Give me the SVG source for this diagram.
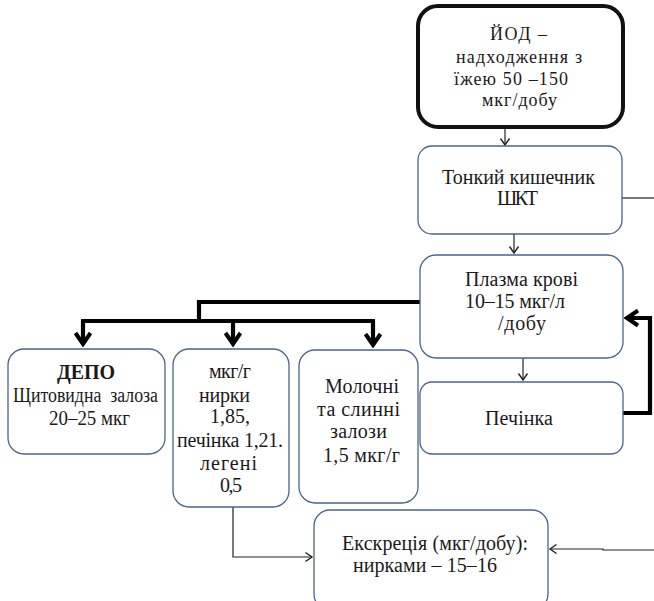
<svg xmlns="http://www.w3.org/2000/svg" width="654" height="601" viewBox="0 0 654 601">
  <defs>
    <style>
      .box { fill: #ffffff; stroke: #4a6489; stroke-width: 1.3; }
      .boxb { fill: #ffffff; stroke: #111111; stroke-width: 4; }
      .t { font-family: "Liberation Serif", "Times New Roman", serif; font-size: 20px; fill: #1a1a1a; }
      .s { font-size: 18px; }
      .b { font-weight: bold; }
      .thin { fill: none; stroke: #222222; stroke-width: 1.2; }
      .thick { fill: none; stroke: #000000; stroke-width: 4.2; }
    </style>
    <marker id="open" viewBox="-8 -6 10 12" refX="0" refY="0" markerWidth="10" markerHeight="12" markerUnits="userSpaceOnUse" orient="auto">
      <path d="M-6.5,-4.5 L0,0 L-6.5,4.5" fill="none" stroke="#222222" stroke-width="1.4"/>
    </marker>
    <marker id="bold" viewBox="-15 -11 18 22" refX="0" refY="0" markerWidth="18" markerHeight="22" markerUnits="userSpaceOnUse" orient="auto">
      <path d="M-11,-7.5 L0,0 L-11,7.5" fill="none" stroke="#000000" stroke-width="4"/>
    </marker>
  </defs>

  <g id="connectors">
    <line class="thin" x1="505" y1="128" x2="505" y2="145" marker-end="url(#open)"/>
    <line class="thin" x1="514" y1="234" x2="514" y2="253" marker-end="url(#open)"/>
    <line class="thin" x1="523" y1="358" x2="523" y2="380" marker-end="url(#open)"/>
    <line class="thin" x1="622" y1="198" x2="654" y2="198"/>
    <polyline class="thin" points="233,507 233,557 312,557" marker-end="url(#open)"/>
    <polyline class="thin" points="654,550 603,550 603,549 550,549" marker-end="url(#open)"/>
    <polyline class="thick" points="420,302 199,302 199,321"/>
    <polyline class="thick" points="81,321 375,321"/>
    <line class="thick" x1="83" y1="321" x2="83" y2="344" marker-end="url(#bold)"/>
    <line class="thick" x1="233" y1="321" x2="233" y2="344" marker-end="url(#bold)"/>
    <line class="thick" x1="373" y1="321" x2="373" y2="345" marker-end="url(#bold)"/>
    <polyline class="thick" points="623,413 650,413 650,318 627,318" marker-end="url(#bold)"/>
  </g>

  <g id="iodine">
    <rect class="boxb" x="418" y="6" width="205" height="121" rx="20"/>
    <text class="t s" x="490" y="40" textLength="57">ЙОД –</text>
    <text class="t s" x="456" y="63" textLength="126">надходження з</text>
    <text class="t s" x="454" y="85" textLength="114">їжею 50 –150</text>
    <text class="t s" x="482" y="106" textLength="75">мкг/добу</text>
  </g>

  <g id="intestine">
    <rect class="box" x="418" y="146" width="204" height="88" rx="14"/>
    <text class="t" x="442" y="184" textLength="153">Тонкий кишечник</text>
    <text class="t" x="497" y="205" textLength="41">ШКТ</text>
  </g>

  <g id="plasma">
    <rect class="box" x="420" y="255" width="203" height="103" rx="16"/>
    <text class="t" x="465" y="286" textLength="113">Плазма крові</text>
    <text class="t" x="465" y="308" textLength="100">10–15 мкг/л</text>
    <text class="t" x="498" y="330" textLength="48">/добу</text>
  </g>

  <g id="liver">
    <rect class="box" x="420" y="382" width="203" height="72" rx="12"/>
    <text class="t" x="485" y="425" textLength="68">Печінка</text>
  </g>

  <g id="depot">
    <rect class="box" x="8" y="349" width="157" height="105" rx="16"/>
    <text class="t b" x="57" y="379" textLength="58">ДЕПО</text>
    <text class="t" x="13" y="402" textLength="145" lengthAdjust="spacingAndGlyphs" xml:space="preserve">Щитовидна  залоза</text>
    <text class="t" x="49" y="425" textLength="81" lengthAdjust="spacingAndGlyphs">20–25 мкг</text>
  </g>

  <g id="organs">
    <rect class="box" x="173" y="349" width="116" height="158" rx="16"/>
    <text class="t" x="209" y="378" textLength="42">мкг/г</text>
    <text class="t" x="199" y="402" textLength="51">нирки</text>
    <text class="t" x="210" y="423" textLength="40">1,85,</text>
    <text class="t" x="177" y="447" textLength="106">печінка 1,21.</text>
    <text class="t" x="200" y="470" textLength="57">легені</text>
    <text class="t" x="220" y="492" textLength="22">0,5</text>
  </g>

  <g id="glands">
    <rect class="box" x="299" y="350" width="119" height="153" rx="16"/>
    <text class="t" x="325" y="393" textLength="74">Молочні</text>
    <text class="t" x="317" y="416" textLength="83">та слинні</text>
    <text class="t" x="330" y="438" textLength="57">залози</text>
    <text class="t" x="323" y="462" textLength="77">1,5 мкг/г</text>
  </g>

  <g id="excretion">
    <rect class="box" x="314" y="510" width="234" height="100" rx="16"/>
    <text class="t" x="342" y="550" textLength="186">Екскреція (мкг/добу):</text>
    <text class="t" x="353" y="572" textLength="144">нирками – 15–16</text>
  </g>
</svg>
